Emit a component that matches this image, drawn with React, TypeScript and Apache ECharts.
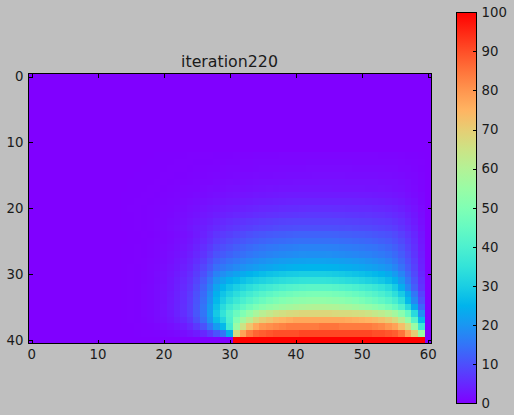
import React, { useEffect, useRef } from "react";
import * as echarts from "echarts";

const title = "iteration220";
const columns = Array.from({ length: 61 }, (_, i) => String(i));
const rowsLabels = Array.from({ length: 41 }, (_, i) => String(i));
const firstRow = 12;
const firstCol = 14;
// Values, rows 12..40, columns 14..60; everything else is 0.
const heatRows: number[][] = [
  [0,0,0,0,0,.1,.1,.1,.1,.1, .2,.2,.2,.2,.3,.3,.3,.4,.4,.4, .5,.5,.5,.5,.6,.6,.6,.6,.6,.6, .6,.6,.6,.6,.6,.6,.6,.6,.6,.5, .5,.5,.4,.3,.3,.1,0],
  [0,0,0,0,.1,.1,.1,.1,.2,.2, .2,.3,.3,.3,.4,.4,.5,.5,.6,.6, .7,.7,.7,.8,.8,.8,.8,.8,.9,.9, .9,.9,.9,.9,.9,.8,.8,.8,.8,.8, .8,.7,.6,.5,.4,.2,0],
  [0,0,0,.1,.1,.1,.1,.2,.2,.2, .3,.4,.4,.5,.5,.6,.7,.7,.8,.8, .9,1,1,1,1.1,1.1,1.1,1.1,1.2,1.2, 1.2,1.2,1.2,1.2,1.2,1.1,1.1,1.1,1.1,1.1, 1,1,.8,.7,.5,.3,0],
  [0,0,.1,.1,.1,.1,.2,.2,.3,.3, .4,.5,.5,.6,.7,.8,.9,1,1.1,1.1, 1.2,1.3,1.3,1.4,1.4,1.5,1.5,1.5,1.5,1.6, 1.6,1.6,1.6,1.6,1.5,1.5,1.5,1.5,1.5,1.4, 1.4,1.3,1.1,.9,.7,.4,0],
  [0,.1,.1,.1,.1,.2,.2,.3,.4,.4, .5,.6,.7,.8,1,1.1,1.2,1.3,1.4,1.5, 1.6,1.7,1.7,1.8,1.9,1.9,2,2,2,2, 2.1,2.1,2.1,2.1,2,2,2,2,2,1.9, 1.8,1.7,1.5,1.2,.9,.5,0],
  [0,.1,.1,.1,.2,.2,.3,.4,.5,.6, .7,.8,1,1.2,1.3,1.4,1.6,1.7,1.8,1.9, 2,2.1,2.2,2.3,2.4,2.4,2.4,2.5,2.5,2.5, 2.5,2.5,2.4,2.4,2.4,2.4,2.4,2.3,2.3,2.2, 2.1,1.9,1.7,1.4,1,.5,0],
  [.1,.1,.1,.2,.2,.3,.4,.5,.6,.8, .9,1.1,1.3,1.5,1.7,1.9,2.1,2.2,2.4,2.5, 2.7,2.8,2.9,3,3.1,3.2,3.2,3.2,3.3,3.3, 3.3,3.3,3.2,3.2,3.2,3.2,3.1,3.1,3,2.9, 2.7,2.5,2.2,1.8,1.3,.7,0],
  [.1,.1,.2,.2,.3,.4,.5,.6,.8,1, 1.2,1.5,1.7,2,2.2,2.5,2.7,2.9,3.1,3.2, 3.5,3.6,3.8,3.9,4,4.1,4.2,4.2,4.3,4.3, 4.3,4.3,4.2,4.2,4.2,4.1,4.1,4,3.9,3.8, 3.5,3.2,2.9,2.3,1.7,.9,0],
  [.1,.2,.2,.3,.4,.5,.6,.8,1,1.3, 1.6,1.9,2.2,2.6,2.9,3.2,3.5,3.8,4,4.2, 4.5,4.7,4.9,5,5.2,5.4,5.4,5.5,5.6,5.6, 5.6,5.6,5.5,5.5,5.4,5.4,5.3,5.2,5,4.9, 4.6,4.2,3.8,3,2.2,1.2,0],
  [.1,.1,.2,.3,.4,.5,.7,.9,1.2,1.5, 1.9,2.3,2.7,3.1,3.6,4,4.4,4.7,5,5.3, 5.6,5.9,6.1,6.3,6.5,6.7,6.8,6.9,7,7, 7,7,6.9,6.9,6.8,6.7,6.6,6.5,6.3,6.1, 5.8,5.3,4.7,3.8,2.8,1.5,0],
  [.1,.1,.2,.3,.4,.6,.8,1.1,1.4,1.8, 2.2,2.7,3.2,3.8,4.5,5,5.5,6,6.4,6.8, 7.1,7.4,7.7,8,8.2,8.3,8.4,8.5,8.5,8.5, 8.5,8.5,8.4,8.3,8.2,8.1,8,7.8,7.6,7.3, 7,6.4,5.6,4.5,3.3,1.8,0],
  [.1,.1,.2,.3,.4,.6,.9,1.2,1.6,2, 2.6,3.2,3.8,4.5,5.3,5.9,6.5,7,7.5,8, 8.4,8.7,9,9.3,9.6,9.8,9.9,10,10,10, 10,10,9.9,9.8,9.7,9.5,9.4,9.2,8.9,8.6, 8.2,7.5,6.6,5.3,3.9,2.1,0],
  [0,.1,.1,.2,.3,.5,.7,1,1.4,1.8, 2.3,3.1,4.1,5.2,6.5,7.3,8,8.7,9.4,10, 10.5,10.9,11.3,11.6,11.9,12.2,12.4,12.5,12.5,12.5, 12.5,12.5,12.4,12.2,12,11.8,11.6,11.3,11,10.6, 10.1,9.3,8.1,6.5,4.8,2.6,0],
  [0,.1,.1,.3,.4,.6,.8,1.1,1.6,2, 2.6,3.6,4.7,6,7.5,8.4,9.3,10.1,10.9,11.6, 12.2,12.7,13.1,13.5,13.8,14.1,14.3,14.5,14.5,14.5, 14.5,14.4,14.3,14.1,13.9,13.7,13.4,13.1,12.7,12.2, 11.6,10.6,9.2,7.4,5.4,2.9,0],
  [.1,.1,.2,.3,.5,.7,1,1.4,1.9,2.4, 3.1,4.3,5.6,7.2,9,10,11,12,12.9,13.6, 14.3,14.9,15.4,15.8,16.2,16.5,16.8,17,17,17, 17,16.9,16.7,16.5,16.2,15.9,15.6,15.2,14.8,14.2, 13.4,12.2,10.5,8.3,6,3.3,0],
  [.1,.1,.2,.3,.5,.8,1.1,1.6,2.1,2.8, 3.6,4.9,6.4,8.3,10.4,11.5,12.6,13.6,14.5,15.3, 16,16.6,17.2,17.7,18.1,18.4,18.7,18.9,19,19, 19,18.9,18.7,18.4,18.1,17.8,17.4,17,16.5,15.9, 15,13.6,11.7,9.3,6.6,3.6,0],
  [.1,.1,.2,.4,.6,.9,1.3,1.8,2.5,3.2, 4.2,5.7,7.6,9.9,12.3,13.6,14.8,15.9,16.9,17.8, 18.6,19.3,19.9,20.5,21,21.4,21.7,21.9,22,22, 22,21.9,21.7,21.4,21,20.6,20.1,19.6,19,18.3, 17.2,15.5,13.2,10.4,7.4,4,0],
  [.1,.2,.3,.4,.7,1,1.5,2.1,2.8,3.7, 4.8,6.7,8.8,11.4,14.3,15.8,17.1,18.3,19.4,20.4, 21.2,22,22.7,23.3,23.9,24.3,24.7,24.9,25,25, 25,24.9,24.6,24.2,23.8,23.3,22.8,22.2,21.5,20.7, 19.5,17.6,14.9,11.6,8.2,4.4,0],
  [.1,.2,.3,.5,.8,1.2,1.7,2.4,3.2,4.2, 5.5,7.6,10.2,13.4,17,18.9,20.6,22.2,23.5,24.7, 25.8,26.8,27.6,28.3,28.9,29.4,29.7,30,30,30, 30,29.8,29.5,29,28.5,27.9,27.3,26.6,25.8,24.8, 23.4,21,17.6,13.5,9.2,5,0],
  [.1,.2,.3,.5,.8,1.3,1.8,2.6,3.6,4.7, 6.1,8.5,11.6,15.3,19.7,22.2,24.3,26,27.5,28.8, 30,31,32,32.8,33.5,34.1,34.5,34.9,35,35, 35,34.8,34.4,33.9,33.2,32.5,31.7,30.8,29.8,28.6, 27,24.4,20.5,15.5,10.5,5.8,0],
  [.1,.2,.3,.6,.9,1.4,2,2.8,3.9,5.1, 6.7,9.4,12.8,17.1,22.3,25.4,28,30.2,32,33.8, 35.4,36.9,38.2,39.4,40.4,41.3,42,42.5,42.9,43, 43,42.8,42.3,41.6,40.8,39.9,38.9,37.8,36.5,35, 33,29.5,24,18,12,6.6,0],
  [.1,.2,.3,.6,.9,1.4,2.1,3,4.1,5.5, 7.3,10.2,13.8,18.6,24.4,28,31,33.5,36,38, 40,41.8,43.4,44.8,46,47,47.8,48.4,48.9,49, 49,48.8,48.3,47.6,46.7,45.6,44.4,43.1,41.6,39.8, 37.5,34,29.5,23,15.5,8.5,0],
  [.1,.2,.3,.6,.9,1.4,2.1,3.1,4.2,5.7, 7.5,10.5,14.4,19.4,25.7,30,33.8,36.8,39.5,41.8, 44,46,47.8,49.3,50.6,51.6,52.4,53,53.4,53.5, 53.5,53.3,52.8,52.1,51.2,50.1,48.8,47.4,45.8,44, 41.8,38.8,34,26,18,10,0],
  [.1,.2,.3,.6,.9,1.4,2.2,3.2,4.4,5.9, 7.8,11,15.2,20.7,27.5,33,37.5,41,44,47, 49.5,51.8,53.5,55,56.3,57.4,58.3,59,59.6,60, 60,59.7,59.2,58.5,57.6,56.6,55.4,54,52.4,50.5, 48,45,40.5,33,23,13,0],
  [.1,.2,.3,.6,.9,1.4,2,2.9,4.1,5.6, 7.5,10.9,15.2,21.2,29,35,41,46,50,54, 58,61,63,65,66,67,67.5,68,68,68, 68,68,67.5,67,67,66.5,66,65,63.5,62, 60,57,52,45,33,19,0],
  [.1,.2,.3,.5,.8,1.2,1.7,2.5,3.5,4.8, 6.6,9.8,14,19.8,27,32,40,50,57,62, 67,70,72,74,75,76,77,77,77,77, 77,77,77,77,76.5,76,75.5,75,74,72.5, 70.5,67.5,62,54,42,26,0],
  [.1,.1,.2,.4,.5,.8,1.2,1.7,2.4,3.4, 4.7,7,10.4,15.3,21,26,38,55,65,72, 77,80,81,82,83,84,84,84,84,84, 85,85,85,84,84,84,84,84,83,82, 80,78,73,67,55,37,0],
  [0,0,.1,.2,.2,.4,.5,.8,1.1,1.5, 2.2,3.2,4.8,7.2,10.5,15,24,67,78,84, 87,88,89,90,90,90,90,91,91,91, 91,91,91,91,91,91,91,91,90,90, 89,88,85,78,70,55,0],
  [0,0,0,0,0,0,0,0,0,0, 0,0,0,0,0,0,0,100,100,100, 100,100,100,100,100,100,100,100,100,100, 100,100,100,100,100,100,100,100,100,100, 100,100,100,100,100,100,0],
];
const colorbarLevel = [100];
const rainbow = [
  "#8000ff", "#6628ff", "#4d4ffc", "#3374f8", "#1a96f2", "#00b4ec", "#1acee3", "#33e3d9", "#4df0cf", "#66fac2", "#80ffb4",
  "#99fca5", "#b3f296", "#cce385", "#e6ce74", "#ffb462", "#ff964f", "#ff743b", "#ff4f28", "#ff2814", "#ff0000",
];

const ink = "#1a1a1a";
const font = "DejaVu Sans";

export default function App() {
  const ref = useRef<HTMLDivElement>(null);
  useEffect(() => {
    const chart = echarts.init(ref.current!, undefined, { renderer: "svg" });
    const cells: number[][] = [];
    columns.forEach((_, c) => {
      rowsLabels.forEach((_, r) => {
        const row = heatRows[r - firstRow];
        const v = row && c >= firstCol ? row[c - firstCol] : 0;
        cells.push([c, r, v]);
      });
    });
    const line = { show: true, onZero: false, lineStyle: { color: "#000", width: 1.3 } };
    const mainX = (position: string, labels: boolean) => ({
      type: "category", gridIndex: 0, data: columns, position, z: 5,
      axisLine: line,
      axisTick: { show: true, inside: true, length: 4, alignWithLabel: true, interval: 9, lineStyle: { color: "#000", width: 1 } },
      axisLabel: { show: labels, interval: 9, color: ink, fontFamily: font, fontSize: 13.3, margin: 4 },
      splitLine: { show: false },
    });
    const mainY = (position: string, labels: boolean) => ({
      type: "category", gridIndex: 0, data: rowsLabels, inverse: true, position, z: 5,
      axisLine: line,
      axisTick: { show: true, inside: true, length: 4, alignWithLabel: true, interval: 9, lineStyle: { color: "#000", width: 1 } },
      axisLabel: { show: labels, interval: 9, color: ink, fontFamily: font, fontSize: 13.3, margin: 5, padding: [0, 0, 2, 0] },
      splitLine: { show: false },
    });
    const barX = (position: string) => ({
      type: "category", gridIndex: 1, data: ["level"], position, z: 5,
      axisLine: line, axisTick: { show: false }, axisLabel: { show: false }, splitLine: { show: false },
    });
    const barY = (position: string, labels: boolean) => ({
      type: "value", gridIndex: 1, min: 0, max: 100, interval: 10, position, z: 5,
      axisLine: line,
      axisTick: { show: labels, inside: true, length: 4, lineStyle: { color: "#000", width: 1 } },
      axisLabel: { show: labels, color: ink, fontFamily: font, fontSize: 13.3, margin: 5 },
      splitLine: { show: false },
    });
    chart.setOption({
      animation: false,
      backgroundColor: "#bfbfbf",
      title: {
        text: title, left: 224.5, top: 48, textAlign: "center",
        textStyle: { color: ink, fontFamily: font, fontSize: 15.8, fontWeight: "normal" },
      },
      grid: [
        { left: 28.5, top: 73.5, width: 403, height: 270, show: true, backgroundColor: rainbow[0], borderWidth: 0 },
        { left: 456.5, top: 12.5, width: 20, height: 391 },
      ],
      xAxis: [mainX("bottom", true), mainX("top", false), barX("bottom"), barX("top")],
      yAxis: [mainY("left", true), mainY("right", false), barY("right", true), barY("left", false)],
      visualMap: {
        show: false, type: "continuous", min: 0, max: 100, seriesIndex: 0, dimension: 2,
        inRange: { color: rainbow },
      },
      series: [
        {
          type: "heatmap", xAxisIndex: 0, yAxisIndex: 0, data: cells, progressive: 0,
          itemStyle: { borderWidth: 0 }, emphasis: { disabled: true },
        },
        {
          type: "bar", xAxisIndex: 2, yAxisIndex: 2, data: colorbarLevel, barWidth: "100%", silent: true,
          itemStyle: {
            color: new echarts.graphic.LinearGradient(0, 1, 0, 0,
              rainbow.map((color, i) => ({ offset: i / (rainbow.length - 1), color }))),
          },
        },
      ],
    });
    return () => chart.dispose();
  }, []);
  return (
    <>
      <style>{"svg path { shape-rendering: crispEdges; }"}</style>
      <div ref={ref} style={{ position: "absolute", left: 0, top: 0, width: 514, height: 415 }} />
    </>
  );
}
